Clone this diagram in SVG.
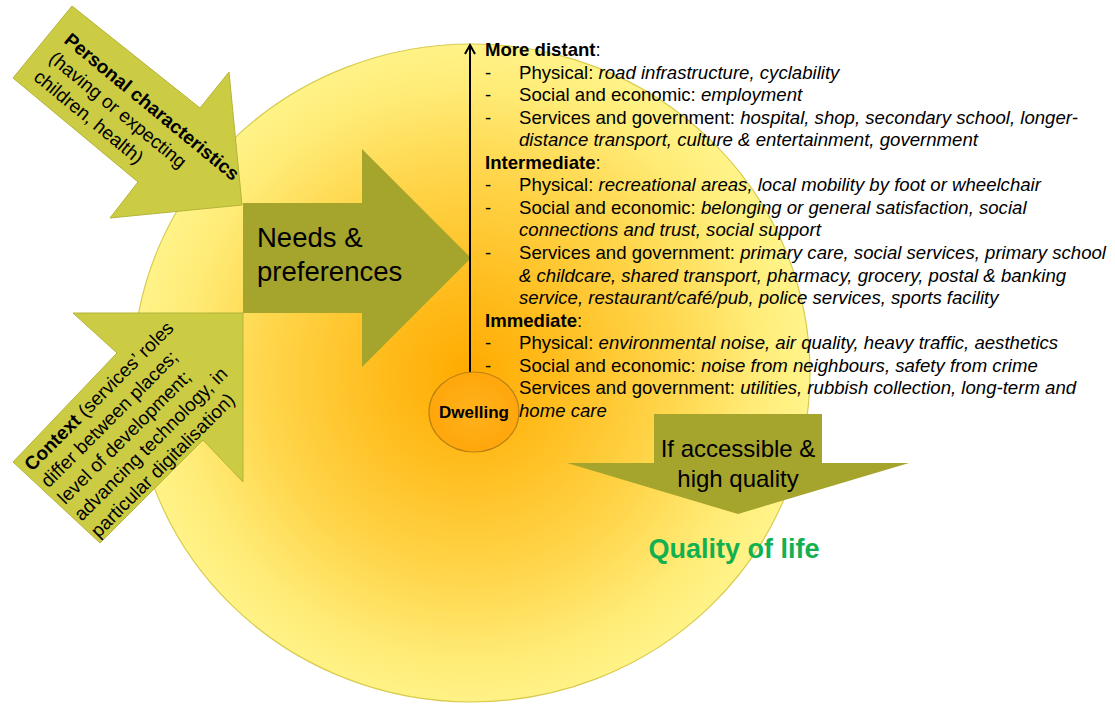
<svg xmlns="http://www.w3.org/2000/svg" width="1115" height="706" viewBox="0 0 1115 706">
  <defs>
    <radialGradient id="sunFill" gradientUnits="userSpaceOnUse" cx="468" cy="375" r="340">
      <stop offset="0" stop-color="#FFAA00"/>
      <stop offset="0.25" stop-color="#FFBC1C"/>
      <stop offset="0.6" stop-color="#FFD64C"/>
      <stop offset="0.85" stop-color="#FFEC78"/>
      <stop offset="1" stop-color="#FFF48A"/>
    </radialGradient>
    <radialGradient id="dwellFill" cx="0.5" cy="0.5" r="0.6">
      <stop offset="0" stop-color="#FFB21C"/>
      <stop offset="1" stop-color="#FFA408"/>
    </radialGradient>
  </defs>
  <style>
    text { font-family: "Liberation Sans", Arial, sans-serif; fill: #000; }
    .olive { fill: #A5A42D; }
    .lime { fill: #CCCC44; stroke: #B4B43A; stroke-width: 1; }
    .big { font-size: 27.5px; }
    .mid { font-size: 24px; }
    .side { font-size: 19px; }
    .list { font-size: 18.6px; }
    .b { font-weight: bold; }
    .i { font-style: italic; }
  </style>

  <rect width="1115" height="706" fill="#FFFFFF"/>

  <!-- background disc -->
  <g id="sun">
    <ellipse cx="471.5" cy="373" rx="338.5" ry="329" fill="url(#sunFill)" stroke="#D9CB4E" stroke-width="1.2"/>
  </g>

  <!-- influence arrows -->
  <g id="personal">
    <polygon class="lime" points="13,78 72,6 200,108 229,72 242,205 110,218 138,182"/>
    <text class="side" transform="translate(63,42) rotate(39.4)">
      <tspan x="0" y="0" class="b">Personal characteristics</tspan>
      <tspan x="0" y="24">(having or expecting</tspan>
      <tspan x="0" y="48">children, health)</tspan>
    </text>
  </g>

  <g id="context">
    <polygon class="lime" points="13,462 117,353 73,313 243,313 243,482 203,440 100,543"/>
    <text class="side" transform="translate(32,472) rotate(-45)">
      <tspan x="0" y="0"><tspan class="b">Context</tspan> (services’ roles</tspan>
      <tspan x="0" y="23.5">differ between places;</tspan>
      <tspan x="0" y="47">level of development;</tspan>
      <tspan x="0" y="70.5">advancing technology, in</tspan>
      <tspan x="0" y="94">particular digitalisation)</tspan>
    </text>
  </g>

  <g id="needs">
    <polygon class="olive" points="243,203 362,203 362,149 471,258 362,367 362,313 243,313"/>
    <text class="big" x="257" y="247">Needs &amp;</text>
    <text class="big" x="257" y="281">preferences</text>
  </g>

  <!-- distance axis -->
  <g id="connectors" fill="none" stroke="#000" stroke-width="2">
    <line x1="470" y1="374" x2="470" y2="46"/>
    <polyline points="465,54 470,45 475,54" stroke-linejoin="miter"/>
  </g>

  <g id="dwelling">
    <ellipse cx="474" cy="412" rx="45" ry="40" fill="url(#dwellFill)" stroke="#B88210" stroke-width="1.2"/>
    <text x="474" y="418" text-anchor="middle" font-size="17" font-weight="bold">Dwelling</text>
  </g>

  <!-- services by distance from the dwelling -->
  <g id="services" class="list">
    <text x="485" y="56"><tspan class="b">More distant</tspan>:</text>
    <text x="485" y="78.5">-</text>
    <text x="519" y="78.5">Physical: <tspan class="i">road infrastructure, cyclability</tspan></text>
    <text x="485" y="101.1">-</text>
    <text x="519" y="101.1">Social and economic: <tspan class="i">employment</tspan></text>
    <text x="485" y="123.6">-</text>
    <text x="519" y="123.6">Services and government: <tspan class="i">hospital, shop, secondary school, longer-</tspan></text>
    <text x="519" y="146.2" class="i">distance transport, culture &amp; entertainment, government</text>

    <text x="485" y="168.7"><tspan class="b">Intermediate</tspan>:</text>
    <text x="485" y="191.3">-</text>
    <text x="519" y="191.3">Physical: <tspan class="i">recreational areas, local mobility by foot or wheelchair</tspan></text>
    <text x="485" y="213.8">-</text>
    <text x="519" y="213.8">Social and economic: <tspan class="i">belonging or general satisfaction, social</tspan></text>
    <text x="519" y="236.4" class="i">connections and trust,  social support</text>
    <text x="485" y="258.9">-</text>
    <text x="519" y="258.9">Services and government: <tspan class="i">primary care, social services, primary school</tspan></text>
    <text x="519" y="281.5" class="i">&amp; childcare, shared transport, pharmacy, grocery, postal &amp; banking</text>
    <text x="519" y="304" class="i">service, restaurant/café/pub, police services, sports facility</text>

    <text x="485" y="326.6"><tspan class="b">Immediate</tspan>:</text>
    <text x="485" y="349.1">-</text>
    <text x="519" y="349.1">Physical: <tspan class="i">environmental noise, air quality, heavy traffic, aesthetics</tspan></text>
    <text x="485" y="371.7">-</text>
    <text x="519" y="371.7">Social and economic: <tspan class="i">noise from neighbours, safety from crime</tspan></text>
    <text x="519" y="394.2">Services and government: <tspan class="i">utilities, rubbish collection, long-term and</tspan></text>
    <text x="519" y="416.8" class="i">home care</text>
  </g>

  <g id="outcome">
    <polygon class="olive" points="654,414 822,414 822,463 909,463 738,514 567,463 654,463"/>
    <text class="mid" x="738" y="457" text-anchor="middle">If accessible &amp;</text>
    <text class="mid" x="738" y="487" text-anchor="middle">high quality</text>
  </g>

  <g id="quality">
    <text x="734" y="558" text-anchor="middle" font-size="27" font-weight="bold" style="fill:#12B050">Quality of life</text>
  </g>
</svg>
